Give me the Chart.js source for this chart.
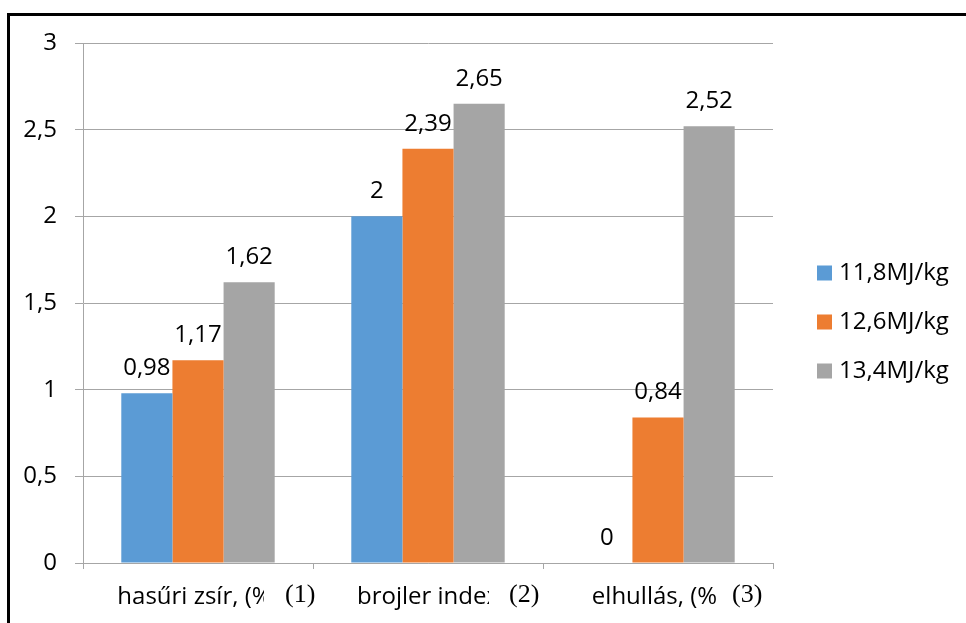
<!DOCTYPE html>
<html>
<head>
<meta charset="utf-8">
<script src="https://cdn.jsdelivr.net/npm/chart.js@4/dist/chart.umd.min.js"></script>
<style>
html,body{margin:0;padding:0;background:#fff;}
#wrap{position:relative;width:966px;height:623px;overflow:hidden;}
#frame{position:absolute;left:7px;top:13px;width:980px;height:640px;border-top:3px solid #000;border-left:3px solid #000;box-sizing:border-box;}
canvas{position:absolute;left:0;top:0;}
</style>
</head>
<body>
<div id="wrap">
<div id="frame"></div>
<canvas id="c" width="966" height="623"></canvas>
</div>
<script>
const categories = ['hasűri zsír, (%)', 'brojler index', 'elhullás, (%)'];
const categoryMarks = ['(1)', '(2)', '(3)'];
const seriesNames = ['11,8MJ/kg', '12,6MJ/kg', '13,4MJ/kg'];
const series1 = [0.98, 2, 0];
const series2 = [1.17, 2.39, 0.84];
const series3 = [1.62, 2.65, 2.52];
const yTickLabels = ['0', '0,5', '1', '1,5', '2', '2,5', '3'];
const colors = ['#5B9BD5', '#ED7D31', '#A5A5A5'];

const FONT = '"Open Sans", sans-serif';
const GRID = '#a6a6a6';

const fmt = v => String(v).replace('.', ',');

const dataLabelPlugin = {
  id: 'dataLabels',
  afterDatasetsDraw(chart) {
    const ctx = chart.ctx;
    ctx.save();
    ctx.font = '24px ' + FONT;
    ctx.fillStyle = '#000';
    ctx.textAlign = 'center';
    ctx.textBaseline = 'alphabetic';
    chart.data.datasets.forEach((ds, di) => {
      const meta = chart.getDatasetMeta(di);
      meta.data.forEach((bar, i) => {
        ctx.fillText(fmt(ds.data[i]), bar.x, bar.y - 18);
      });
    });
    ctx.restore();
  }
};

const markPlugin = {
  id: 'marks',
  afterDraw(chart) {
    const ctx = chart.ctx;
    const xs = chart.scales.x;
    const boxOff = [66, 61, 58];
    const markOff = [87, 81, 74];
    ctx.save();
    categoryMarks.forEach((m, i) => {
      const cx = xs.getPixelForValue(i);
      ctx.fillStyle = '#fff';
      ctx.fillRect(cx + boxOff[i], xs.top + 12, markOff[i] - boxOff[i] + 40, 46);
      ctx.fillStyle = '#000';
      ctx.font = '26px "Liberation Serif", serif';
      ctx.textAlign = 'left';
      ctx.textBaseline = 'alphabetic';
      ctx.fillText(m, cx + markOff[i], xs.top + 39);
    });
    ctx.restore();
  }
};

const legendPlugin = {
  id: 'customLegend',
  afterDraw(chart) {
    const ctx = chart.ctx;
    const ca = chart.chartArea;
    const x0 = ca.right + 44;
    const yc = (ca.top + ca.bottom) / 2 + 19;
    const gap = 49;
    ctx.save();
    ctx.font = '24px ' + FONT;
    ctx.textBaseline = 'middle';
    ctx.textAlign = 'left';
    chart.data.datasets.forEach((ds, i) => {
      const y = yc + (i - 1) * gap;
      ctx.fillStyle = ds.backgroundColor;
      ctx.fillRect(x0, y - 7.5, 15, 15);
      ctx.fillStyle = '#000';
      ctx.fillText(ds.label, x0 + 22, y);
    });
    ctx.restore();
  }
};

new Chart(document.getElementById('c'), {
  type: 'bar',
  data: {
    labels: categories,
    datasets: [
      { label: seriesNames[0], data: series1, backgroundColor: colors[0] },
      { label: seriesNames[1], data: series2, backgroundColor: colors[1] },
      { label: seriesNames[2], data: series3, backgroundColor: colors[2] }
    ]
  },
  options: {
    responsive: false,
    animation: false,
    devicePixelRatio: 1,
    layout: { padding: { left: 0, top: 43, right: 193, bottom: 0 } },
    datasets: { bar: { barPercentage: 1, categoryPercentage: 0.667, borderWidth: 0 } },
    plugins: { legend: { display: false }, tooltip: { enabled: false } },
    scales: {
      x: {
        grid: { offset: true, drawOnChartArea: false, color: GRID, tickLength: 6 },
        border: { color: GRID },
        ticks: { autoSkip: false, maxRotation: 0, color: '#000', font: { family: FONT, size: 24 }, padding: 14 },
        afterFit: s => { s.height = 60; }
      },
      y: {
        min: 0, max: 3,
        grid: { color: GRID, tickLength: 8 },
        border: { color: GRID },
        ticks: {
          stepSize: 0.5, color: '#000', font: { family: FONT, size: 24 }, padding: 18,
          callback: (v, i) => yTickLabels[i]
        },
        afterFit: s => { s.width = 83; }
      }
    }
  },
  plugins: [dataLabelPlugin, markPlugin, legendPlugin]
});
</script>
</body>
</html>
